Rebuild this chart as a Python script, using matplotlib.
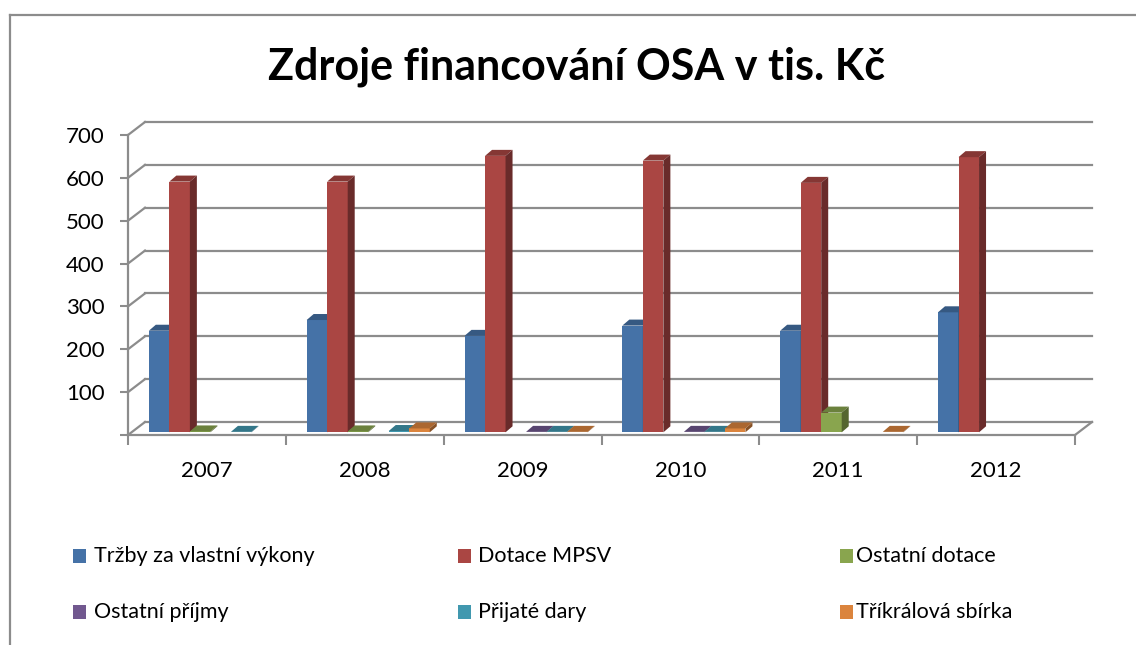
import numpy as np
import matplotlib
matplotlib.use("Agg")
import matplotlib.pyplot as plt
from matplotlib.patches import Polygon, Rectangle
from matplotlib.lines import Line2D

plt.rcParams['font.family'] = ['Lato', 'DejaVu Sans']

# data (tis. Kč), nan = no value
years = ["2007", "2008", "2009", "2010", "2011", "2012"]
series_names = ["Tržby za vlastní výkony", "Dotace MPSV", "Ostatní dotace",
                "Ostatní příjmy", "Přijaté dary", "Tříkrálová sbírka"]
trzby = [237, 262, 225, 249, 237, 280]
dotace_mpsv = [585, 585, 645, 634, 582, 642]
ostatni_dotace = [2, 2, np.nan, np.nan, 46, np.nan]
ostatni_prijmy = [np.nan, np.nan, 1, 1, np.nan, np.nan]
prijate_dary = [1, 3, 1, 1, np.nan, np.nan]
trikralova = [np.nan, 9, 1, 9, 1, np.nan]
all_series = [trzby, dotace_mpsv, ostatni_dotace, ostatni_prijmy, prijate_dary, trikralova]
colors = ["#4572A7", "#AA4643", "#89A54E", "#71588F", "#4198AF", "#DB843D"]
yticks = list(range(0, 800, 100))

W, H = 1136, 645
fig = plt.figure(figsize=(W / 100, H / 100), dpi=100)


def fx(px):
    return px / W


def fy(py):
    return 1 - py / H


def shade(c, f):
    rgb = np.array(matplotlib.colors.to_rgb(c))
    return tuple(rgb * f)


# front plane of the 3d box
ax = fig.add_axes([fx(128), fy(435), 947 / W, 300 / H])
ax.set_xlim(0, len(years))
ax.set_ylim(0, 700)
ppx = 947 / len(years)   # pixels per category
ppy = 300 / 700          # pixels per unit

grid_c = "#8c8c8c"
# depth offsets (in data units)
dxb, dyb = 17 / ppx, 13 / ppy      # back wall
dxp, dyp = 0.0, 2.7 / ppy          # bar plane
dxd, dyd = 7 / ppx, 6 / ppy        # bar depth

for s in ["top", "right", "left", "bottom"]:
    ax.spines[s].set_visible(False)

# back wall gridlines + diagonals to the front axis
n = len(years)
for v in yticks:
    ax.plot([dxb, n + dxb], [v + dyb, v + dyb], color=grid_c, lw=1.6, clip_on=False, zorder=1)
    ax.plot([0, dxb], [v, v + dyb], color=grid_c, lw=1.6, clip_on=False, zorder=1)
ax.plot([n, n + dxb], [0, dyb], color=grid_c, lw=1.6, clip_on=False, zorder=1)
ax.plot([0, n], [0, 0], color=grid_c, lw=1.6, clip_on=False, zorder=20)
ax.plot([0, 0], [0, 700], color=grid_c, lw=1.6, clip_on=False, zorder=20)

# bars
x = np.arange(n)
w = 0.13
start = 0.132
for s, vals in enumerate(all_series):
    vals = np.array(vals, dtype=float)
    xs = x + start + s * w + dxp
    ok = ~np.isnan(vals)
    z = 5 + s
    ax.bar(xs[ok], vals[ok], width=w, bottom=dyp, align="edge",
           color=colors[s], edgecolor="none", zorder=z, clip_on=False)
    for xi, v in zip(xs[ok], vals[ok]):
        top = v + dyp
        ax.add_patch(Polygon([(xi, top), (xi + w, top), (xi + w + dxd, top + dyd), (xi + dxd, top + dyd)],
                             closed=True, facecolor=shade(colors[s], 0.78), edgecolor="none",
                             zorder=z, clip_on=False))
        ax.add_patch(Polygon([(xi + w, dyp), (xi + w, top), (xi + w + dxd, top + dyd), (xi + w + dxd, dyp + dyd)],
                             closed=True, facecolor=shade(colors[s], 0.62), edgecolor="none",
                             zorder=z, clip_on=False))

# ticks
ax.set_yticks(yticks)
ax.set_yticklabels(["" if v == 0 else str(v) for v in yticks], fontsize=16)
ax.tick_params(axis="y", length=6, width=1.5, color=grid_c, pad=11)
ax.set_xticks(np.arange(n + 1))
ax.set_xticklabels([])
ax.set_xticks(x + 0.5, minor=True)
ax.set_xticklabels(years, minor=True, fontsize=16)
ax.tick_params(axis="x", which="major", length=7.5, width=1.5, color=grid_c)
ax.tick_params(axis="x", which="minor", length=0, pad=19)

# title
fig.text(fx(576), fy(67), "Zdroje financování OSA v tis. Kč", fontsize=31,
         fontweight="bold", ha="center", va="center")

# legend
col_marker = [73, 458, 840]
col_text = [94, 478, 856]
row_y = [556, 612]
for k, name in enumerate(series_names):
    r, c = divmod(k, 3)
    fig.patches.append(Rectangle((fx(col_marker[c]), fy(row_y[r] + 7)), 13 / W, 14 / H,
                                 transform=fig.transFigure, facecolor=colors[k], edgecolor="none"))
    fig.text(fx(col_text[c]), fy(row_y[r]), name, fontsize=15.5, ha="left", va="center")

# chart frame (cropped at right and bottom)
fig.add_artist(Line2D([fx(10), fx(1136)], [fy(15), fy(15)], color=grid_c, lw=1.6))
fig.add_artist(Line2D([fx(10), fx(10)], [fy(15), fy(645)], color=grid_c, lw=1.6))

plt.savefig("out.png", dpi=100)
plt.close()
